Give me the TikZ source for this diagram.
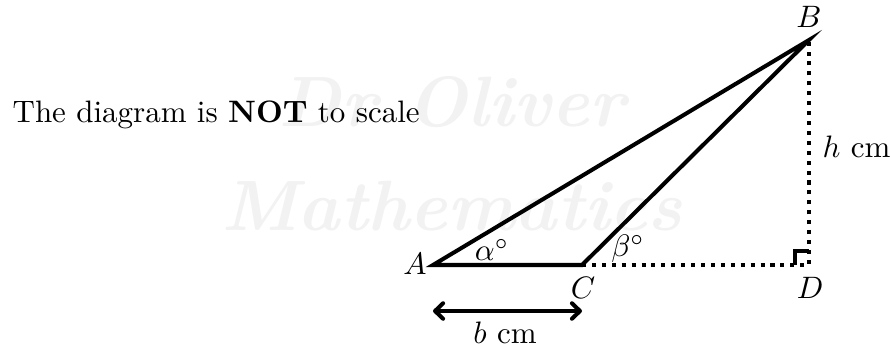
\documentclass[tikz,border=0pt]{standalone}
\usetikzlibrary{arrows.meta}
\begin{document}
\begin{tikzpicture}[x=0.3226pt,y=-0.3226pt,
  edge/.style={line width=1.3pt},
  dotline/.style={line width=1.3pt, dash pattern=on 1.3pt off 1.9pt},
  barb/.tip={Straight Barb[length=2.6pt,width=5pt,round]},
  wmark/.style={text=black!5, font=\fontsize{23}{23}\selectfont\bfseries\itshape, inner sep=0, anchor=base},
  lab/.style={inner sep=1pt}]
\useasboundingbox (0,0) rectangle (891,350);
% watermark
\node[wmark] (wm1) at (452,126) {Dr Oliver};
\node[wmark] (wm2) at (452,230) {Mathematics};
% note
\node[anchor=base west, inner sep=0] (note) at (12,122) {The diagram is \textbf{NOT} to scale};
% points
\coordinate (A) at (433,265);
\coordinate (C) at (582,265);
\coordinate (D) at (809,265);
\coordinate (B) at (809,40);
\coordinate (R1) at (795,265);
\coordinate (R2) at (795,251);
\coordinate (R3) at (809,251);
\coordinate (a1) at (433,311);
\coordinate (a2) at (582,311);
% dotted lines
\draw[dotline] (C) -- (D) -- (B);
% right angle
\draw[edge] (R1) -- (R2) -- (R3);
% triangle
\draw[edge] (A) -- (B) -- (C) -- cycle;
% arrow
\draw[edge, barb-barb] (a1) -- (a2);
% labels
\node[lab] (lA) at (415,264) {$A$};
\node[lab] (lB) at (809,17) {$B$};
\node[lab] (lC) at (583,288) {$C$};
\node[lab] (lD) at (810,288) {$D$};
\node[lab] (alpha) at (492,250) {$\alpha^\circ$};
\node[lab] (beta) at (628,249) {$\beta^\circ$};
\node[anchor=base west, inner sep=0] (h) at (822,157) {$h$ cm};
\node[lab] (b) at (505,333) {$b$ cm};
\end{tikzpicture}
\end{document}
